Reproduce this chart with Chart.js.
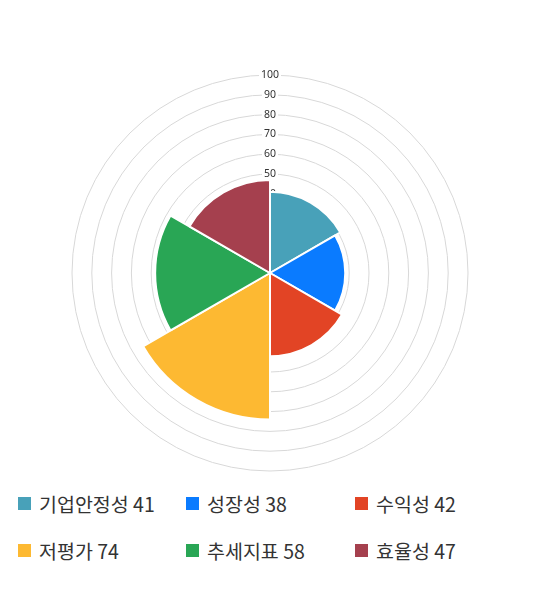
<!DOCTYPE html>
<html>
<head>
<meta charset="utf-8">
<script src="https://cdn.jsdelivr.net/npm/chart.js@4"></script>
<style>
  body { margin: 0; width: 540px; height: 590px; background: #fff; position: relative; font-family: "Noto Sans CJK KR", "Noto Sans", sans-serif; }
  #wrap { position: absolute; left: 0; top: 67px; width: 540px; height: 412px; }
  #legend { position: absolute; left: 18px; top: 490px; width: 520px; display: grid; grid-template-columns: 168px 169px 170px; row-gap: 20px; }
  .item { display: flex; align-items: center; height: 27px; font-size: 19.5px; color: #333; white-space: nowrap; }
  .box { width: 13px; height: 13px; margin-right: 8px; flex: none; }
</style>
</head>
<body>
<div id="wrap"><canvas id="chart"></canvas></div>
<div id="legend"></div>
<script>
const labels = ["기업안정성", "성장성", "수익성", "저평가", "추세지표", "효율성"];
const scores = [41, 38, 42, 74, 58, 47];
const colors = ["#48a1b9", "#0a7bff", "#e24425", "#fdb932", "#29a655", "#a5404e"];

new Chart(document.getElementById("chart"), {
  type: "polarArea",
  data: {
    labels: labels,
    datasets: [
      {
        data: scores,
        backgroundColor: colors,
        borderColor: "#fff",
        borderWidth: 2,
      },
    ],
  },
  options: {
    responsive: true,
    maintainAspectRatio: false,
    animation: false,
    plugins: {
      legend: { display: false },
      tooltip: { enabled: false },
    },
    scales: {
      r: {
        min: 0,
        max: 100,
        ticks: {
          stepSize: 10,
          color: "#333",
          font: { size: 10.5, family: "Noto Sans" },
          backdropColor: "#fff",
          backdropPadding: 2,
          z: 0,
        },
        grid: { color: "#d8d8d8", lineWidth: 1 },
      },
    },
  },
});

// legend built from the same arrays
const legend = document.getElementById("legend");
labels.forEach((name, i) => {
  const item = document.createElement("div");
  item.className = "item";
  item.innerHTML = `<span class="box" style="background:${colors[i]}"></span>${name} ${scores[i]}`;
  legend.appendChild(item);
});
</script>
</body>
</html>
